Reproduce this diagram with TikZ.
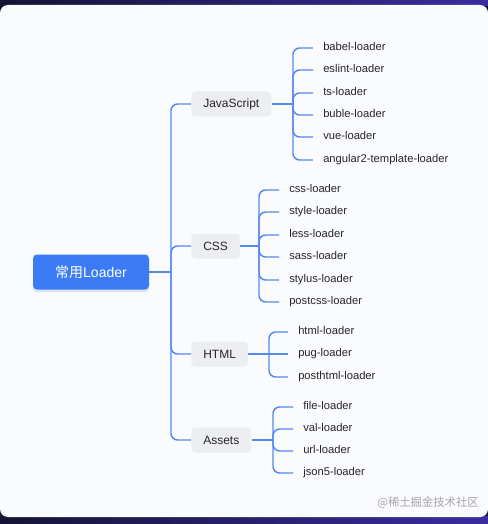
\documentclass[tikz,border=0pt]{standalone}
\usepackage{fontspec}
\setmainfont{Liberation Sans}
\newfontfamily\cjk{Noto Sans CJK SC}
\definecolor{ldblue}{RGB}{59,124,246}
\definecolor{ldline}{RGB}{86,136,240}
\definecolor{ldgray}{RGB}{237,238,241}
\definecolor{ldtext}{RGB}{38,38,44}
\definecolor{ldpaper}{RGB}{250,251,252}
\definecolor{ldnavy}{RGB}{20,20,52}
\definecolor{ldviolet}{RGB}{58,44,160}
\definecolor{ldmark}{RGB}{165,165,172}
\usetikzlibrary{positioning,shadows}

\begin{document}
\begin{tikzpicture}[x=0.75pt, y=-0.75pt,
  rootbox/.style={fill=ldblue, rounded corners=3pt, text=white,
    minimum width=87pt, minimum height=26.25pt, font=\fontsize{10.5}{12}\selectfont,
    drop shadow={shadow xshift=0pt, shadow yshift=-2pt, fill=ldblue!70, opacity=0.25}},
  catbox/.style={fill=ldgray, rounded corners=3pt, text=ldtext, anchor=west,
    inner xsep=9pt, minimum height=18.75pt, font=\fontsize{9}{11}\selectfont},
  leaf/.style={text=ldtext, anchor=west, inner xsep=7.5pt,
    text height=6.2pt, text depth=1.8pt, font=\fontsize{8.4}{10}\selectfont},
  link/.style={draw=ldline, line width=1.1pt, rounded corners=5pt}]

% Page and frame
\useasboundingbox (0,0) rectangle (488,524);
\fill[ldnavy] (0,0) rectangle (488,524);
\shade[left color=ldnavy, right color=ldviolet] (0,0) rectangle (488,6);
\shade[left color=ldnavy, right color=ldviolet] (0,516) rectangle (488,524);
\fill[ldpaper, rounded corners=6pt] (0,5) rectangle (488,517);

% Root and groups
\node[rootbox] (root) at (91,272) {{\cjk 常用}Loader};
\node[catbox] (js) at (191,104) {JavaScript};
\node[catbox] (css) at (191,246) {CSS};
\node[catbox] (html) at (191,354) {HTML};
\node[catbox] (assets) at (191,440) {Assets};

\coordinate (hub) at (171,272);
\coordinate (jshub) at (293,104);
\coordinate (csshub) at (259,246);
\coordinate (htmlhub) at (269,354);
\coordinate (assetshub) at (273,440);

% JavaScript loaders
\node[leaf] (js1) at (313,48) {babel-loader};
\node[leaf] (js2) at (313,70) {eslint-loader};
\node[leaf] (js3) at (313,93) {ts-loader};
\node[leaf] (js4) at (313,115) {buble-loader};
\node[leaf] (js5) at (313,137) {vue-loader};
\node[leaf] (js6) at (313,160) {angular2-template-loader};

% CSS loaders
\node[leaf] (css1) at (279,190) {css-loader};
\node[leaf] (css2) at (279,212) {style-loader};
\node[leaf] (css3) at (279,235) {less-loader};
\node[leaf] (css4) at (279,257) {sass-loader};
\node[leaf] (css5) at (279,280) {stylus-loader};
\node[leaf] (css6) at (279,302) {postcss-loader};

% HTML loaders
\node[leaf] (html1) at (288,332) {html-loader};
\node[leaf] (html2) at (288,354) {pug-loader};
\node[leaf] (html3) at (288,377) {posthtml-loader};

% Assets loaders
\node[leaf] (assets1) at (293,407) {file-loader};
\node[leaf] (assets2) at (293,429) {val-loader};
\node[leaf] (assets3) at (293,451) {url-loader};
\node[leaf] (assets4) at (293,473) {json5-loader};

% Trunk
\draw[link] (root.east) -- (hub);
\draw[link] (hub) |- (js.west);
\draw[link] (hub) |- (css.west);
\draw[link] (hub) |- (html.west);
\draw[link] (hub) |- (assets.west);

% Branches
\draw[link] (js.east) -- (jshub);
\draw[link] (jshub) |- (js1.west);
\draw[link] (jshub) |- (js2.west);
\draw[link] (jshub) |- (js3.west);
\draw[link] (jshub) |- (js4.west);
\draw[link] (jshub) |- (js5.west);
\draw[link] (jshub) |- (js6.west);

\draw[link] (css.east) -- (csshub);
\draw[link] (csshub) |- (css1.west);
\draw[link] (csshub) |- (css2.west);
\draw[link] (csshub) |- (css3.west);
\draw[link] (csshub) |- (css4.west);
\draw[link] (csshub) |- (css5.west);
\draw[link] (csshub) |- (css6.west);

\draw[link] (html.east) -- (htmlhub);
\draw[link] (htmlhub) |- (html1.west);
\draw[link] (htmlhub) -- (html2.west);
\draw[link] (htmlhub) |- (html3.west);

\draw[link] (assets.east) -- (assetshub);
\draw[link] (assetshub) |- (assets1.west);
\draw[link] (assetshub) |- (assets2.west);
\draw[link] (assetshub) |- (assets3.west);
\draw[link] (assetshub) |- (assets4.west);

\node[text=ldmark, font=\cjk\fontsize{8.5}{10}\selectfont] (mark) at (428,503) {@稀土掘金技术社区};

\end{tikzpicture}
\end{document}
